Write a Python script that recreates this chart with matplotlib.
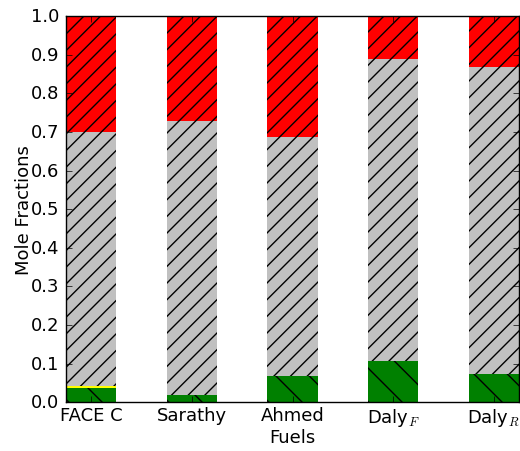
import numpy as np
import matplotlib
matplotlib.use("Agg")
import matplotlib.pyplot as plt

plt.style.use("classic")
plt.rcParams["mathtext.fontset"] = "cm"

# Daten
fuels = ["FACE C", "Sarathy", "Ahmed", r"Daly$_F$", r"Daly$_R$"]
green = [0.038, 0.018, 0.067, 0.106, 0.073]
yellow = [0.003, 0.0, 0.0, 0.0, 0.0]
gray = [0.659, 0.710, 0.620, 0.783, 0.795]
red = [0.300, 0.272, 0.313, 0.111, 0.132]

ind = np.arange(len(fuels))
width = 0.5

fig = plt.figure(figsize=(5.2, 4.52), dpi=100)
ax = fig.add_axes([0.127, 0.108, 0.871, 0.854])

b0 = np.zeros(len(fuels))
ax.bar(ind, green, width, bottom=b0, align="edge", color="green",
       edgecolor="black", linewidth=0, hatch="\\")
b1 = b0 + np.array(green)
ax.bar(ind, yellow, width, bottom=b1, align="edge", color="yellow",
       edgecolor="black", linewidth=0)
b2 = b1 + np.array(yellow)
ax.bar(ind, gray, width, bottom=b2, align="edge", color="silver",
       edgecolor="black", linewidth=0, hatch="//")
b3 = b2 + np.array(gray)
ax.bar(ind, red, width, bottom=b3, align="edge", color="red",
       edgecolor="black", linewidth=0, hatch="//")

ax.set_xlim(0, 4.5)
ax.set_ylim(0, 1.0)
ax.set_yticks(np.arange(0, 1.01, 0.1))
ax.set_xticks(ind + width / 2)
ax.set_xticklabels(fuels, fontsize=13)
ax.tick_params(axis="y", labelsize=13, pad=5)
ax.tick_params(axis="x", pad=3)
ax.set_ylabel("Mole Fractions", fontsize=13, labelpad=-2)
ax.set_xlabel("Fuels", fontsize=13, labelpad=0)

fig.savefig("out.png", dpi=100)
